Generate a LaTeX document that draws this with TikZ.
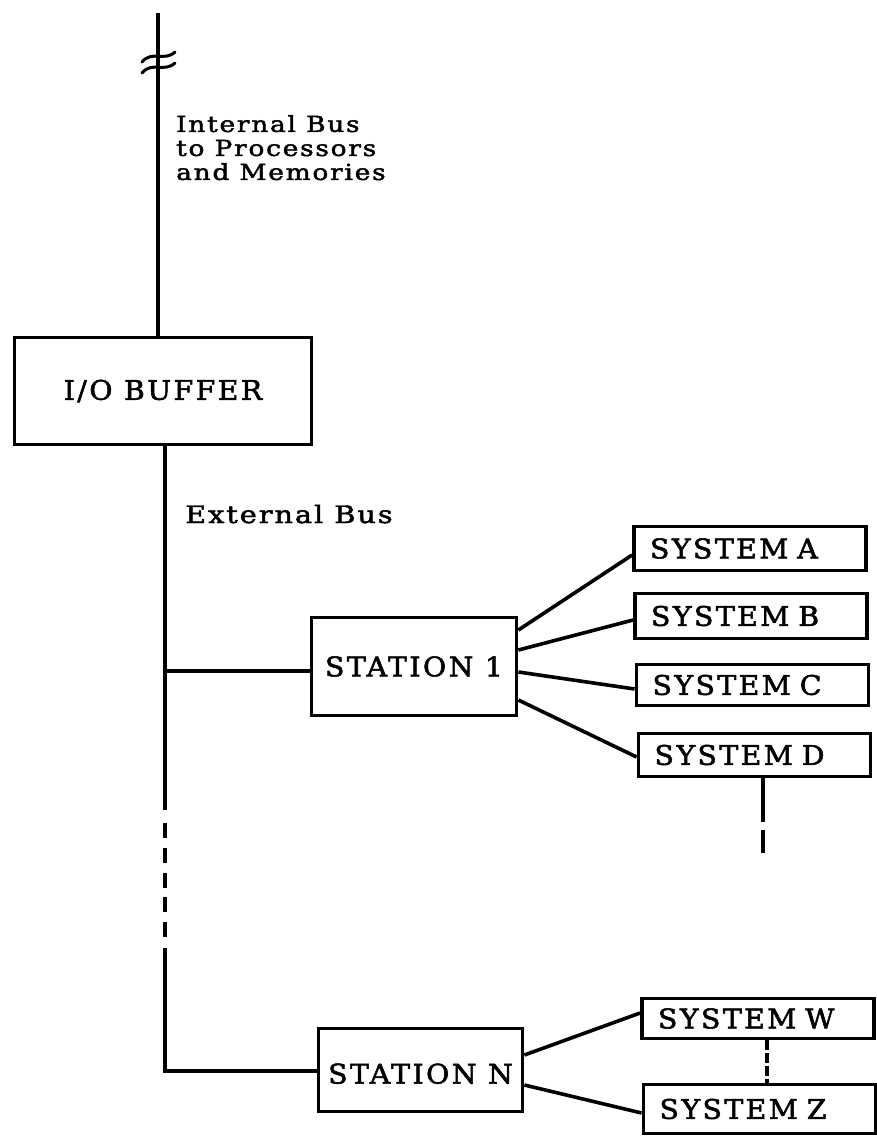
\documentclass[tikz,border=0pt]{standalone}
\usepackage{fontspec}
\setmainfont{DejaVu Serif}
\newfontfamily\capfont[LetterSpace=9,FakeStretch=1.05,FakeBold=2]{DejaVu Serif}
\newfontfamily\lowfont[LetterSpace=8,FakeStretch=1.2,FakeBold=2]{DejaVu Serif}
\usetikzlibrary{calc}
\begin{document}
\begin{tikzpicture}[x=1pt,y=-1pt,
  box/.style={draw, line width=3.8pt, inner sep=0pt, font=\capfont\fontsize{27}{32}\selectfont},
  sysbox/.style={box, text width=200pt, inner xsep=16pt, align=left},
  bus/.style={line width=3.6pt},
  brk/.style={line width=3pt, line cap=round}]
\useasboundingbox (0,0) rectangle (877,1138);
\fill[white] (0,0) rectangle (877,1138);

% nodes
\node[box, minimum width=297pt, minimum height=107pt] (buffer) at (163,391) {I/O BUFFER};
\node[box, minimum width=205pt, minimum height=98pt] (station1) at (414,666.5) {STATION 1};
\node[box, minimum width=204pt, minimum height=83pt, text depth=0pt] (stationN) at (420.5,1070) {\raisebox{-7pt}{STATION N}};
\node[sysbox, minimum height=44pt] (A) at (750,548.5) {SYSTEM A};
\node[sysbox, minimum height=45pt] (B) at (751,616) {SYSTEM B};
\node[sysbox, minimum height=41pt] (C) at (752.5,685) {SYSTEM C};
\node[sysbox, minimum height=43pt] (D) at (754.5,755) {SYSTEM D};
\node[sysbox, minimum height=40pt] (W) at (758,1018.5) {SYSTEM W};
\node[sysbox, minimum height=49pt] (Z) at (759.5,1109) {SYSTEM Z};

% labels
\node[anchor=north west, inner sep=0pt, align=left, font=\lowfont\fontsize{22}{24}\selectfont] (intlabel) at (176,115) {Internal Bus\\to Processors\\and Memories};
\node[anchor=base west, inner sep=0pt, font=\lowfont\fontsize{24}{28}\selectfont] (extlabel) at (185,523) {External Bus};

% coordinates
\coordinate (top) at (158,13);
\coordinate (j1) at (165,671);
\coordinate (b1) at (165,810);
\coordinate (b2) at (165,823);
\coordinate (b3) at (165,937);
\coordinate (b4) at (165,948);
\coordinate (corner) at (165,1071);
\coordinate (dEnd) at (763,853);

% internal bus with break mark
\draw[bus] (top) -- (top |- buffer.north);
\draw[brk] (142,62) .. controls (152,50) and (164,62) .. (175,52);
\draw[brk] (142,73) .. controls (152,61) and (164,73) .. (175,63);

% external bus
\draw[bus] (buffer.south -| j1) -- (b1);
\draw[bus] (j1) -- (j1 -| station1.west);
\draw[bus, dash pattern=on 15pt off 9.75pt] (b2) -- (b3);
\draw[bus] (b4) -- (corner) -- (corner -| stationN.west);

% station 1 to systems
\draw[bus] ([yshift=36.5pt]station1.east) -- ([yshift=-6.5pt]A.west);
\draw[bus] ([yshift=16.5pt]station1.east) -- ([yshift=-4pt]B.west);
\draw[bus] ([yshift=-5.5pt]station1.east) -- ([yshift=-4pt]C.west);
\draw[bus] ([yshift=-33.5pt]station1.east) -- ([yshift=-2pt]D.west);
\draw[bus, dash pattern=on 44pt off 8pt on 23pt off 10pt] ([xshift=8.5pt]D.south) -- (dEnd);

% station N to systems
\draw[bus] ([yshift=15pt]stationN.east) -- ([yshift=5.5pt]W.west);
\draw[bus] ([yshift=-15pt]stationN.east) -- ([yshift=-4pt]Z.west);
\draw[bus, dash pattern=on 10pt off 3pt] ([xshift=9pt]W.south) -- ([xshift=7.5pt]Z.north);
\end{tikzpicture}
\end{document}
